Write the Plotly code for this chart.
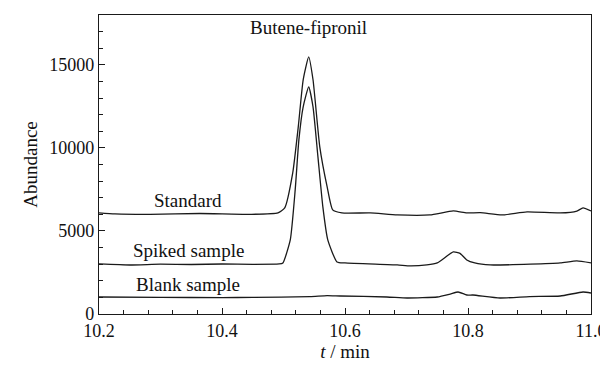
import plotly.graph_objects as go

# Retention time (min) and abundance
std_t = [10.200, 10.226, 10.283, 10.364, 10.446, 10.491, 10.502, 10.515, 10.524, 10.532,
         10.541, 10.548, 10.559, 10.571, 10.580, 10.595, 10.641, 10.685, 10.738, 10.776,
         10.798, 10.820, 10.855, 10.896, 10.950, 10.977, 10.987, 11.000]
std_y = [6084, 6024, 6000, 6050, 6000, 6084, 6385, 8490, 11265, 14100,
         15480, 14100, 10060, 7650, 6265, 6084, 6084, 5964, 5964, 6205,
         6084, 6100, 5964, 6144, 6084, 6200, 6385, 6205]

spk_t = [10.200, 10.250, 10.300, 10.350, 10.400, 10.450, 10.493, 10.499, 10.511, 10.519,
         10.525, 10.532, 10.541, 10.548, 10.556, 10.564, 10.572, 10.587, 10.600, 10.685,
         10.706, 10.733, 10.750, 10.776, 10.787, 10.798, 10.811, 10.836, 10.901, 10.950,
         10.977, 11.000]
spk_y = [3012, 2950, 3000, 2980, 3010, 2990, 3012, 3073, 4458, 7470,
         10480, 12470, 13675, 12470, 9460, 6445, 4458, 3133, 3073, 2952,
         2892, 2952, 3073, 3735, 3650, 3253, 3073, 2952, 3000, 3073,
         3193, 3073]

blk_t = [10.200, 10.300, 10.400, 10.450, 10.543, 10.571, 10.592, 10.668, 10.701, 10.750,
         10.771, 10.784, 10.798, 10.808, 10.852, 10.900, 10.950, 10.987, 11.000]
blk_y = [1024, 1000, 990, 1000, 1050, 1110, 1084, 1024, 964, 1024,
         1200, 1325, 1144, 1144, 964, 1050, 1084, 1325, 1265]

series_names = ["Standard", "Spiked sample", "Blank sample"]
x_tick_vals = [10.2, 10.4, 10.6, 10.8, 11.0]
x_tick_text = ["10.2", "10.4", "10.6", "10.8", "11.0"]
y_tick_vals = [0, 5000, 10000, 15000]
y_tick_text = ["0", "5000", "10000", "15000"]

FONT = "Liberation Serif"
LINE = "#1a1a1a"

fig = go.Figure()
for name, t, y in zip(series_names, [std_t, spk_t, blk_t], [std_y, spk_y, blk_y]):
    fig.add_trace(go.Scatter(x=t, y=y, mode="lines", name=name,
                             line=dict(color=LINE, width=1.3, shape="spline", smoothing=0.5),
                             showlegend=False))

labels = [("Butene-fipronil", 10.541, 17250), ("Standard", 10.345, 6850),
          ("Spiked sample", 10.345, 3850), ("Blank sample", 10.345, 1750)]
for text, x, y in labels:
    fig.add_annotation(x=x, y=y, text=text, showarrow=False,
                       font=dict(family=FONT, size=19, color="#111"))

# page body has an 8px margin, so the figure is sized/offset to compensate
fig.update_layout(
    width=592, height=354,
    margin=dict(l=91, r=9, t=7, b=48),
    paper_bgcolor="white", plot_bgcolor="white",
    font=dict(family=FONT, size=19, color="#111"),
)
fig.update_xaxes(range=[10.2, 11.0], tickvals=x_tick_vals, ticktext=x_tick_text,
                 ticks="inside", ticklen=6, tickwidth=1, tickcolor=LINE,
                 tickfont=dict(family=FONT, size=18), ticklabeloverflow="allow",
                 minor=dict(dtick=0.04, tick0=10.2, ticks="inside", ticklen=4, tickcolor=LINE),
                 showline=True, linecolor=LINE, linewidth=1.2, mirror=True,
                 showgrid=False, zeroline=False, automargin=False,
                 title=dict(text="<i>t</i> / min", standoff=4, font=dict(family=FONT, size=19)))
fig.update_yaxes(range=[0, 18000], tickvals=y_tick_vals, ticktext=y_tick_text,
                 ticks="inside", ticklen=6, tickwidth=1, tickcolor=LINE,
                 tickfont=dict(family=FONT, size=18),
                 minor=dict(dtick=1000, tick0=0, ticks="inside", ticklen=4, tickcolor=LINE),
                 showline=True, linecolor=LINE, linewidth=1.2, mirror=True,
                 showgrid=False, zeroline=False, automargin=False,
                 title=dict(text="Abundance", standoff=6, font=dict(family=FONT, size=19)))

fig.write_html("out.html")
